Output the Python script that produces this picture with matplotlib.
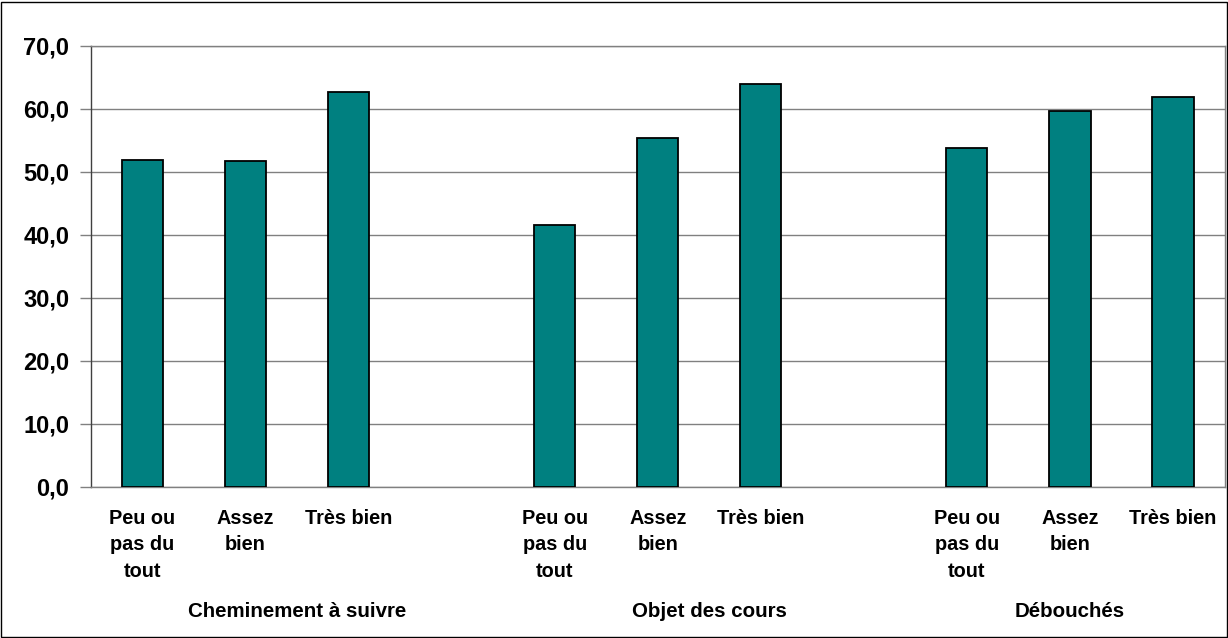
#!/usr/bin/env python3

import matplotlib
matplotlib.use("Agg")
from matplotlib import pyplot as plt
from matplotlib.patches import Rectangle
from matplotlib.ticker import FuncFormatter
import matplotlib.transforms as mtransforms

groups = ["Cheminement à suivre", "Objet des cours", "Débouchés"]
answers = ["Peu ou\npas du\ntout", "Assez\nbien", "Très bien"]
values = [
    [51.9, 51.7, 62.6],
    [41.5, 55.3, 63.9],
    [53.8, 59.7, 61.9],
]
y_ticks = [0, 10, 20, 30, 40, 50, 60, 70]

bar_color = "#008080"
grid_color = "#808080"
font = ["Liberation Sans", "DejaVu Sans"]


def main():
    plt.rcParams["font.family"] = font
    plt.rcParams["font.weight"] = "bold"

    fig = plt.figure(figsize=(12.28, 6.38), dpi=100)
    ax = fig.add_axes([91 / 1228, 151.3 / 638, 1133.5 / 1228, 441 / 638])

    # one empty slot between groups, like the Excel sheet
    xs, heights, labels, group_centers = [], [], [], []
    slot = 0
    for g, vals in enumerate(values):
        start = slot
        for label, v in zip(answers, vals):
            xs.append(slot)
            heights.append(v)
            labels.append(label)
            slot += 1
        span_end = slot if g < len(values) - 1 else slot - 1
        group_centers.append((start + span_end) / 2)
        slot += 1
    n_slots = slot - 1

    ax.bar(xs, heights, width=0.4, color=bar_color, edgecolor="black",
           linewidth=1.3, zorder=3)

    ax.set_xlim(-0.5, n_slots - 0.5)
    ax.set_ylim(y_ticks[0], y_ticks[-1])
    ax.set_yticks(y_ticks)
    ax.yaxis.set_major_formatter(
        FuncFormatter(lambda v, _: f"{v:.1f}".replace(".", ","))
    )
    ax.tick_params(axis="y", length=8, width=1, color=grid_color, pad=7.5,
                   labelsize=17)
    ax.grid(axis="y", color=grid_color, linewidth=1, zorder=0)

    ax.set_xticks(xs)
    ax.set_xticklabels(labels, fontsize=14.3, linespacing=1.5)
    ax.tick_params(axis="x", length=0, pad=16)

    for side in ["top", "right", "bottom"]:
        ax.spines[side].set_color(grid_color)
        ax.spines[side].set_linewidth(1)
    ax.spines["left"].set_color("#404040")
    ax.spines["left"].set_linewidth(1)

    trans = mtransforms.blended_transform_factory(ax.transData, fig.transFigure)
    for name, cx in zip(groups, group_centers):
        ax.text(cx, 26.3 / 638, name, transform=trans, ha="center",
                va="center", fontsize=14.8, fontweight="bold")

    # outer chart frame
    fig.patches.append(Rectangle((1 / 1228, 1 / 638), 1225.5 / 1228, 635.5 / 638,
                                 transform=fig.transFigure, fill=False,
                                 edgecolor="black", linewidth=1))

    fig.savefig("out.png", dpi=100)


if __name__ == "__main__":
    main()
